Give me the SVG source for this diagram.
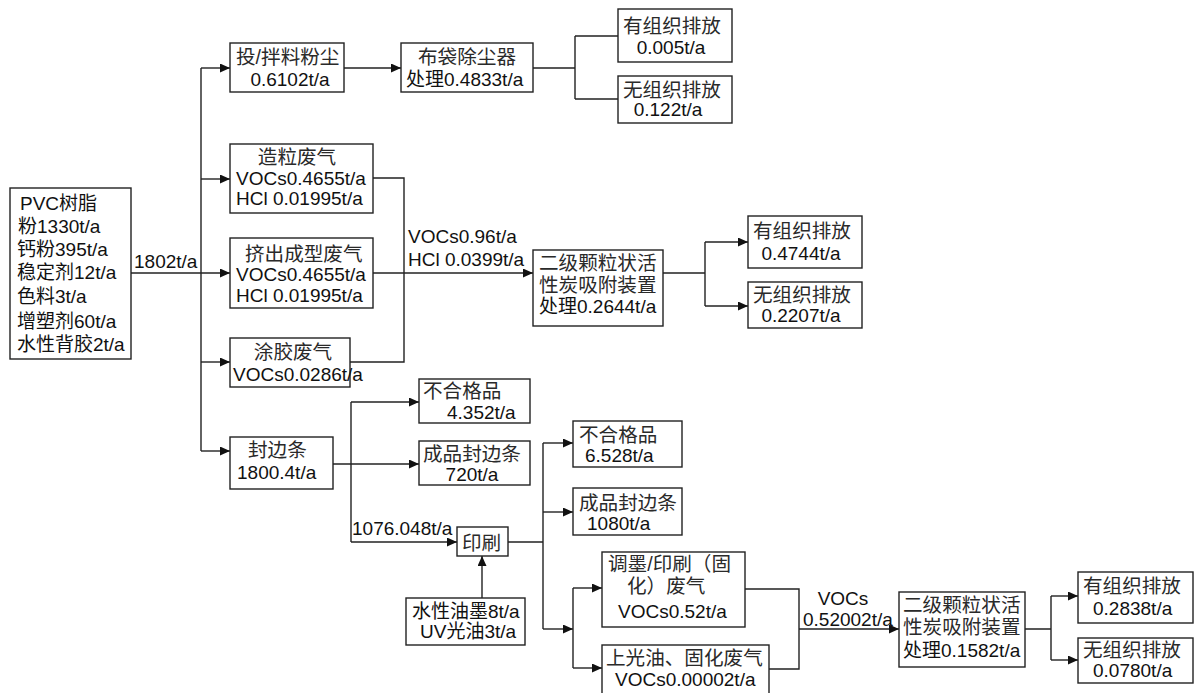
<svg xmlns="http://www.w3.org/2000/svg" width="1195" height="693" viewBox="0 0 1195 693">
<style>
.b{fill:#fff;stroke:#222;stroke-width:1.4}
.c{fill:none;stroke:#222;stroke-width:1.4}
text{font-family:"Liberation Sans","Noto Sans CJK SC",sans-serif;font-size:19px;fill:#111}
.k{font-size:19.6px;fill:#2a2a2a}
.m{text-anchor:middle}
</style>
<defs>
<marker id="a" markerUnits="userSpaceOnUse" markerWidth="11" markerHeight="10" refX="10" refY="4.5" orient="auto"><path d="M0,0 L10,4.5 L0,9 z" fill="#111"/></marker>
</defs>
<rect width="1195" height="693" fill="#fff"/>
<g id="connectors">
<path class="c" d="M201,68 V451"/>
<path class="c" d="M201,68 H230" marker-end="url(#a)"/>
<path class="c" d="M201,179 H230" marker-end="url(#a)"/>
<path class="c" d="M131,273 H230" marker-end="url(#a)"/>
<path class="c" d="M201,362 H230" marker-end="url(#a)"/>
<path class="c" d="M201,451 H230" marker-end="url(#a)"/>
<path class="c" d="M344,68 H401" marker-end="url(#a)"/>
<path class="c" d="M533,68 H575 M575,36 V99 M575,36 H618 M575,99 H618"/>
<path class="c" d="M373,178 H404 V362 H350"/>
<path class="c" d="M373,273 H533" marker-end="url(#a)"/>
<path class="c" d="M663,273 H705 M705,242 V306"/>
<path class="c" d="M705,242 H748" marker-end="url(#a)"/>
<path class="c" d="M705,306 H748" marker-end="url(#a)"/>
<path class="c" d="M333,464 H419" marker-end="url(#a)"/>
<path class="c" d="M351,402 V542"/>
<path class="c" d="M351,402 H419" marker-end="url(#a)"/>
<path class="c" d="M351,542 H457" marker-end="url(#a)"/>
<path class="c" d="M482,598 V556" marker-end="url(#a)"/>
<path class="c" d="M508,542 H543 M543,443 V629"/>
<path class="c" d="M543,443 H573" marker-end="url(#a)"/>
<path class="c" d="M543,512 H573" marker-end="url(#a)"/>
<path class="c" d="M543,629 H573" marker-end="url(#a)"/>
<path class="c" d="M573,588 V668"/>
<path class="c" d="M573,588 H602" marker-end="url(#a)"/>
<path class="c" d="M573,668 H602" marker-end="url(#a)"/>
<path class="c" d="M745,589 H799 V669 H769"/>
<path class="c" d="M799,629 H899" marker-end="url(#a)"/>
<path class="c" d="M1025,629 H1051 M1051,596 V660"/>
<path class="c" d="M1051,596 H1078" marker-end="url(#a)"/>
<path class="c" d="M1051,660 H1078" marker-end="url(#a)"/>
<text x="134" y="268">1802t/a</text>
<text x="408" y="243">VOCs0.96t/a</text>
<text x="408" y="266">HCl 0.0399t/a</text>
<text x="352" y="535">1076.048t/a</text>
<text x="843" y="605" class="m">VOCs</text>
<text x="803" y="626">0.52002t/a</text>
</g>
<g id="raw"><rect class="b" x="10" y="188" width="121" height="171"/>
<text x="20" y="210">PVC树脂</text><text x="18" y="233">粉1330t/a</text><text x="17" y="256">钙粉395t/a</text><text x="17" y="279">稳定剂12t/a</text><text x="17" y="303">色料3t/a</text><text x="17" y="328">增塑剂60t/a</text><text x="17" y="351">水性背胶2t/a</text></g>
<g id="dust"><rect class="b" x="230" y="43" width="114" height="49"/><text x="236" y="64" class="k">投/拌料粉尘</text><text x="290" y="86" class="m">0.6102t/a</text></g>
<g id="bag"><rect class="b" x="401" y="43" width="132" height="49"/><text x="467" y="64" class="m k">布袋除尘器</text><text x="406" y="86">处理0.4833t/a</text></g>
<g id="org1"><rect class="b" x="618" y="9" width="114" height="53"/><text x="623" y="33" class="k">有组织排放</text><text x="671" y="54" class="m">0.005t/a</text></g>
<g id="unorg1"><rect class="b" x="618" y="76" width="114" height="47"/><text x="623" y="97" class="k">无组织排放</text><text x="668" y="116" class="m">0.122t/a</text></g>
<g id="granul"><rect class="b" x="230" y="144" width="143" height="69"/><text x="297" y="164" class="m k">造粒废气</text><text x="236" y="185">VOCs0.4655t/a</text><text x="236" y="205">HCl 0.01995t/a</text></g>
<g id="extrude"><rect class="b" x="230" y="238" width="143" height="70"/><text x="245" y="261" class="k">挤出成型废气</text><text x="236" y="281">VOCs0.4655t/a</text><text x="236" y="302">HCl 0.01995t/a</text></g>
<g id="glue"><rect class="b" x="230" y="338" width="120" height="49"/><text x="293" y="359" class="m k">涂胶废气</text><text x="233" y="381">VOCs0.0286t/a</text></g>
<g id="carbon1"><rect class="b" x="533" y="250" width="130" height="76"/><text x="539" y="270" class="k">二级颗粒状活</text><text x="539" y="292" class="k">性炭吸附装置</text><text x="539" y="313">处理0.2644t/a</text></g>
<g id="org2"><rect class="b" x="748" y="216" width="114" height="52"/><text x="753" y="238" class="k">有组织排放</text><text x="801" y="260" class="m">0.4744t/a</text></g>
<g id="unorg2"><rect class="b" x="748" y="282" width="114" height="46"/><text x="753" y="302" class="k">无组织排放</text><text x="801" y="322" class="m">0.2207t/a</text></g>
<g id="strip"><rect class="b" x="230" y="437" width="103" height="52"/><text x="248" y="457" class="k">封边条</text><text x="237" y="479">1800.4t/a</text></g>
<g id="reject1"><rect class="b" x="419" y="379" width="111" height="44"/><text x="423" y="398" class="k">不合格品</text><text x="447" y="419">4.352t/a</text></g>
<g id="product1"><rect class="b" x="419" y="441" width="111" height="44"/><text x="423" y="461" class="k">成品封边条</text><text x="472" y="481" class="m">720t/a</text></g>
<g id="print"><rect class="b" x="457" y="527" width="51" height="29"/><text x="462" y="550" class="k">印刷</text></g>
<g id="ink"><rect class="b" x="406" y="598" width="119" height="47"/><text x="412" y="618">水性油墨8t/a</text><text x="420" y="638">UV光油3t/a</text></g>
<g id="reject2"><rect class="b" x="573" y="421" width="109" height="46"/><text x="579" y="442" class="k">不合格品</text><text x="585" y="462">6.528t/a</text></g>
<g id="product2"><rect class="b" x="573" y="488" width="109" height="47"/><text x="579" y="510" class="k">成品封边条</text><text x="587" y="530">1080t/a</text></g>
<g id="inkgas"><rect class="b" x="602" y="552" width="143" height="75"/><text x="608" y="571" class="k">调墨/印刷（固</text><text x="627" y="593" class="k">化）废气</text><text x="618" y="618">VOCs0.52t/a</text></g>
<g id="varnish"><rect class="b" x="602" y="645" width="167" height="52"/><text x="606" y="665" class="k">上光油、固化废气</text><text x="615" y="686">VOCs0.00002t/a</text></g>
<g id="carbon2"><rect class="b" x="899" y="592" width="126" height="75"/><text x="903" y="612" class="k">二级颗粒状活</text><text x="903" y="634" class="k">性炭吸附装置</text><text x="903" y="657">处理0.1582t/a</text></g>
<g id="org3"><rect class="b" x="1078" y="572" width="115" height="51"/><text x="1083" y="593" class="k">有组织排放</text><text x="1093" y="615">0.2838t/a</text></g>
<g id="unorg3"><rect class="b" x="1078" y="638" width="115" height="45"/><text x="1083" y="657" class="k">无组织排放</text><text x="1093" y="677">0.0780t/a</text></g>
</svg>
